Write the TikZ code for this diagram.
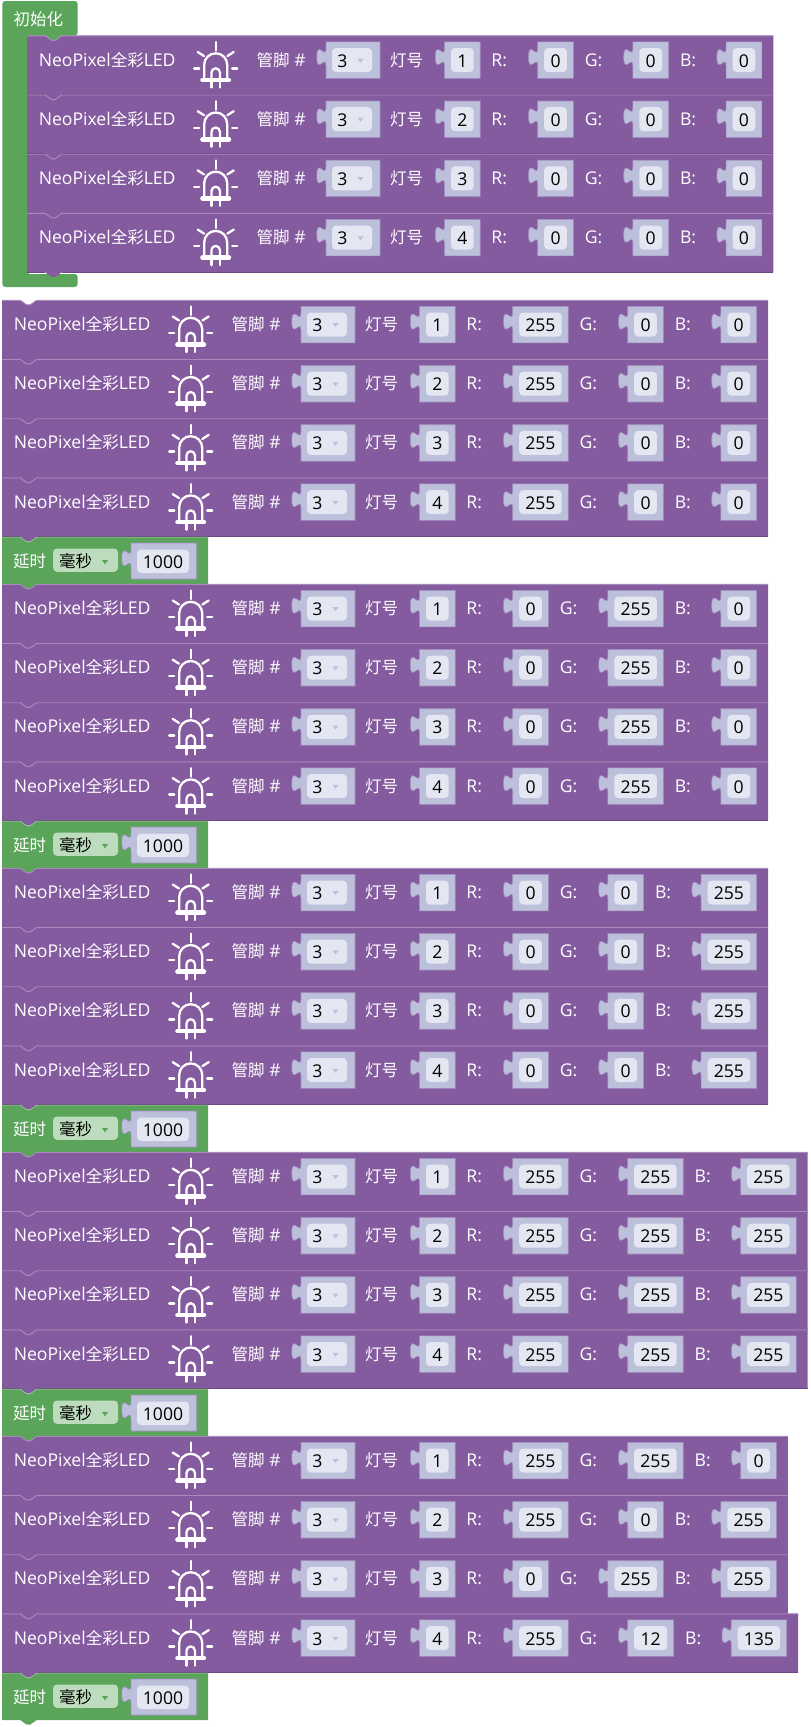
\documentclass[tikz,border=0pt]{standalone}
\usepackage{fontspec}
\setmainfont{Open Sans}
\newfontfamily\cjk{Noto Sans CJK SC}
\definecolor{purp}{HTML}{855BA0}
\definecolor{purpL}{HTML}{A78CBB}
\definecolor{purpD}{HTML}{6B4882}
\definecolor{grn}{HTML}{5BA55B}
\definecolor{grnL}{HTML}{8CC08C}
\definecolor{inp}{HTML}{BDC0DB}
\definecolor{inpE}{HTML}{A18CBF}
\definecolor{fld}{HTML}{E4E7F1}
\definecolor{ddg}{HTML}{BDDBBD}
\newcount\rid
\tikzset{
  lab/.style={anchor=base west,inner sep=0pt,text=white,font=\fontsize{17.6}{20}\selectfont},
  val/.style={anchor=base,inner sep=0pt,text=black,font=\fontsize{17.6}{20}\selectfont},
  ledicon/.style={draw=white,line width=2.3pt,line cap=round,line join=round}
}
\newcommand{\cj}[1]{{\cjk\fontsize{16.5}{20}\selectfont #1}}
% x, width, text, name
\newcommand{\inbox}[4]{%
  \pgfmathsetmacro{\bx}{#1}\pgfmathsetmacro{\bw}{#2}\pgfmathsetmacro{\be}{\bx+\bw}%
  \fill[inp,draw=inpE,line width=.6pt] (\bx,6.3) -- (\be,6.3) -- (\be,42.8) -- (\bx,42.8) -- (\bx,30.2)
    .. controls (\bx,18.7) and (\bx-9.2,39.4) .. (\bx-9.2,21.6)
    .. controls (\bx-9.2,3.8) and (\bx,24.5) .. (\bx,13) -- cycle;
  \fill[fld,rounded corners=4pt] (\bx+6.5,12.5) rectangle (\be-6.5,36.5);
  \node[val] (#4) at (\bx+\bw/2,31.5) {#3};%
}
\newcommand{\wid}[1]{\ifnum#1<10 35.7\else\ifnum#1<100 46\else 55.5\fi\fi}
% L, T, lamp, R, G, B
\newcommand{\ledrow}[6]{%
\global\advance\rid by 1
\begin{scope}[shift={(#1,#2)}]
  \pgfmathsetmacro{\wR}{\wid{#4}}\pgfmathsetmacro{\wG}{\wid{#5}}\pgfmathsetmacro{\wB}{\wid{#6}}%
  \pgfmathsetmacro{\xR}{510.7}%
  \pgfmathsetmacro{\tG}{\xR+\wR+11.7}%
  \pgfmathsetmacro{\xG}{\tG+47.8}%
  \pgfmathsetmacro{\tB}{\xG+\wG+11.7}%
  \pgfmathsetmacro{\xB}{\tB+45.8}%
  \pgfmathsetmacro{\rr}{\xB+\wB+11.5}%
  \fill[purp] (0,0) -- (18.2,0) -- (24.7,4.6) -- (28.2,4.6) -- (34.7,0) -- (\rr,0) -- (\rr,59.2)
     -- (34.7,59.2) -- (28.2,63.8) -- (24.7,63.8) -- (18.2,59.2) -- (0,59.2) -- cycle;
  \draw[purpD,line width=.7pt] (0,59) -- (18.2,59) (34.7,59) -- (\rr,59);
  \draw[purpL,line width=.9pt] (0,.3) -- (18.2,.3) -- (24.7,4.9) -- (28.2,4.9) -- (34.7,.3) -- (\rr,.3);
  \node[lab] (led\the\rid) at (11.6,30.5) {NeoPixel\cj{全彩}LED};
  \begin{scope}[shift={(188.7,0)}]
    \draw[ledicon] (0,6.5) -- (0,15);
    \draw[ledicon] (-18,16.5) -- (-11.7,20.5) (18,16.5) -- (11.7,20.5);
    \draw[ledicon] (-21.5,33) -- (-16.5,33) (21.5,33) -- (16.5,33);
    \draw[ledicon] (-11.5,42) -- (-11.5,29.3) arc[start angle=180,end angle=360,radius=11.5] -- (11.5,42);
    \draw[ledicon] (-4.2,43) -- (-4.2,37) arc[start angle=180,end angle=360,radius=4.2] -- (4.2,43);
    \draw[ledicon] (-4.2,44) -- (-4.2,52) (4.2,44) -- (4.2,52);
    \draw[ledicon,line width=4.6pt] (-13.2,44.5) -- (13.2,44.5);
  \end{scope}
  \node[lab] (pin\the\rid) at (229.5,30.5) {\cj{管脚} \#};
  \fill[inp,draw=inpE,line width=.6pt] (299,6.3) -- (353,6.3) -- (353,42.8) -- (299,42.8) -- (299,30.2)
    .. controls (299,18.7) and (289.8,39.4) .. (289.8,21.6)
    .. controls (289.8,3.8) and (299,24.5) .. (299,13) -- cycle;
  \fill[fld,rounded corners=4pt] (305,12.5) rectangle (345,36.5);
  \node[val] (pv\the\rid) at (315.5,31.5) {3};
  \fill[inp] (330.5,23.2) -- (336.5,23.2) -- (333.5,27.2) -- cycle;
  \node[lab] (num\the\rid) at (363,30.5) {\cj{灯号}};
  \inbox{417.5}{35.7}{#3}{nv\the\rid}
  \node[lab] (rl\the\rid) at (464.2,30.5) {R:};
  \inbox{\xR}{\wR}{#4}{rv\the\rid}
  \node[lab] (gl\the\rid) at (\tG-.5,30.5) {G:};
  \inbox{\xG}{\wG}{#5}{gv\the\rid}
  \node[lab] (bl\the\rid) at (\tB-.5,30.5) {B:};
  \inbox{\xB}{\wB}{#6}{bv\the\rid}
\end{scope}}
% four rows with the same colour
\newcommand{\fourrows}[5]{%
  \ledrow{#1}{#2}{1}{#3}{#4}{#5}%
  \ledrow{#1}{#2+59.2}{2}{#3}{#4}{#5}%
  \ledrow{#1}{#2+118.4}{3}{#3}{#4}{#5}%
  \ledrow{#1}{#2+177.6}{4}{#3}{#4}{#5}}
\newcommand{\delayblock}[1]{%
\global\advance\rid by 1
\begin{scope}[shift={(2,#1)}]
  \fill[grn] (0,0) -- (18.2,0) -- (24.7,4.6) -- (28.2,4.6) -- (34.7,0) -- (206,0) -- (206,47)
     -- (34.7,47) -- (28.2,51.6) -- (24.7,51.6) -- (18.2,47) -- (0,47) -- cycle;
  \draw[grnL,line width=.7pt] (0,.3) -- (18.2,.3) -- (24.7,4.9) -- (28.2,4.9) -- (34.7,.3) -- (206,.3);
  \node[lab] (dl\the\rid) at (11,30.5) {\cj{延时}};
  \fill[ddg,rounded corners=4pt] (51,11.5) rectangle (116,34.8);
  \node[val,anchor=base west] (du\the\rid) at (57,30.5) {\cj{毫秒}};
  \fill[grn] (100,23.2) -- (106,23.2) -- (103,27.2) -- cycle;
  \fill[inp,draw=inpE,line width=.6pt] (129,6) -- (194.7,6) -- (194.7,42) -- (129,42) -- (129,29.9)
    .. controls (129,18.4) and (119.8,39.1) .. (119.8,21.3)
    .. controls (119.8,3.5) and (129,24.2) .. (129,12.7) -- cycle;
  \fill[fld,rounded corners=4pt] (135,12.5) rectangle (187,36);
  \node[val] (dv\the\rid) at (161,31) {1000};
\end{scope}}
\begin{document}
\begin{tikzpicture}[x=1pt,y=-1pt]
\useasboundingbox[fill=white] (0,0) rectangle (811,1727);
% hat block
\fill[grn,rounded corners=3pt] (2.3,1) -- (77.7,1) -- (77.7,35.5) -- (27,35.5) -- (27,274) -- (77.7,274) -- (77.7,287) -- (2.3,287) -- cycle;
\fill[grn] (45.2,35) -- (51.7,40.1) -- (55.2,40.1) -- (61.7,35) -- cycle;
\node[lab] (init) at (13.5,25) {\cj{初始化}};
\fourrows{27}{35.5}{0}{0}{0}
\fourrows{2}{300}{255}{0}{0}
\delayblock{537}
\fourrows{2}{584}{0}{255}{0}
\delayblock{821}
\fourrows{2}{868}{0}{0}{255}
\delayblock{1105}
\fourrows{2}{1152}{255}{255}{255}
\delayblock{1389}
\ledrow{2}{1436}{1}{255}{255}{0}
\ledrow{2}{1495.2}{2}{255}{0}{255}
\ledrow{2}{1554.4}{3}{0}{255}{255}
\ledrow{2}{1613.6}{4}{255}{12}{135}
\delayblock{1673}
\end{tikzpicture}
\end{document}
